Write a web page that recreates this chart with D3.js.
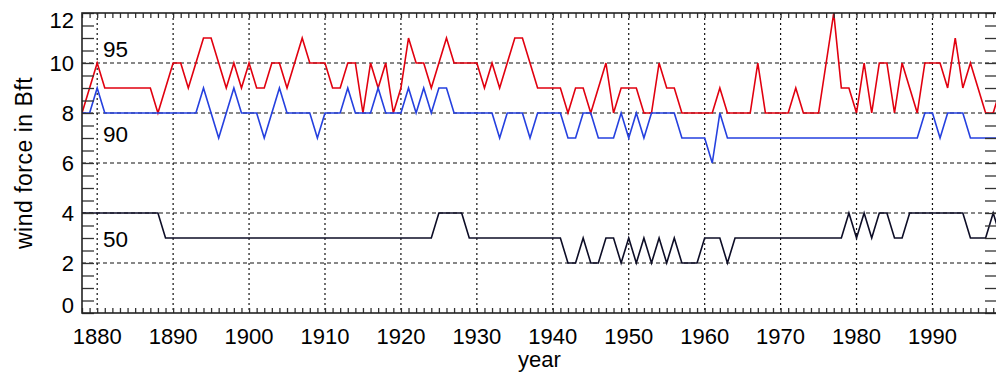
<!DOCTYPE html>
<html lang="en">
<head>
  <meta charset="UTF-8">
  <title>Wind force percentiles</title>
  <style>
    body { margin: 0; background: #fff; font-family: "Liberation Sans", Arial, sans-serif; }
    svg { display: block; }
    .tick-label { font-size: 22px; fill: #000; }
  </style>
</head>
<body>
  <svg width="996" height="378"></svg>
  <script src="https://d3js.org/d3.v7.min.js"></script>
  <script>
    // yearly values 1878..1999
    const firstYear = 1878;
    const p95 = [
      8, 9, 10, 9, 9, 9, 9, 9, 9, 9,
      8, 9, 10, 10, 9, 10, 11, 11, 10, 9,
      10, 9, 10, 9, 9, 10, 10, 9, 10, 11,
      10, 10, 10, 9, 9, 10, 10, 8, 10, 9,
      10, 8, 9, 11, 10, 10, 9, 10, 11, 10,
      10, 10, 10, 9, 10, 9, 10, 11, 11, 10,
      9, 9, 9, 9, 8, 9, 9, 8, 9, 10,
      8, 9, 9, 9, 8, 8, 10, 9, 9, 8,
      8, 8, 8, 8, 9, 8, 8, 8, 8, 10,
      8, 8, 8, 8, 9, 8, 8, 8, 10, 12,
      9, 9, 8, 10, 8, 10, 10, 8, 10, 9,
      8, 10, 10, 10, 9, 11, 9, 10, 9, 8,
      8, 9
    ];
    const p90 = [
      8, 8, 9, 8, 8, 8, 8, 8, 8, 8,
      8, 8, 8, 8, 8, 8, 9, 8, 7, 8,
      9, 8, 8, 8, 7, 8, 9, 8, 8, 8,
      8, 7, 8, 8, 8, 9, 8, 8, 8, 9,
      8, 8, 8, 9, 8, 9, 8, 9, 9, 8,
      8, 8, 8, 8, 8, 7, 8, 8, 8, 7,
      8, 8, 8, 8, 7, 7, 8, 8, 7, 7,
      7, 8, 7, 8, 7, 8, 8, 8, 8, 7,
      7, 7, 7, 6, 8, 7, 7, 7, 7, 7,
      7, 7, 7, 7, 7, 7, 7, 7, 7, 7,
      7, 7, 7, 7, 7, 7, 7, 7, 7, 7,
      7, 8, 8, 7, 8, 8, 8, 7, 7, 7,
      7, 7
    ];
    const p50 = [
      4, 4, 4, 4, 4, 4, 4, 4, 4, 4,
      4, 3, 3, 3, 3, 3, 3, 3, 3, 3,
      3, 3, 3, 3, 3, 3, 3, 3, 3, 3,
      3, 3, 3, 3, 3, 3, 3, 3, 3, 3,
      3, 3, 3, 3, 3, 3, 3, 4, 4, 4,
      4, 3, 3, 3, 3, 3, 3, 3, 3, 3,
      3, 3, 3, 3, 2, 2, 3, 2, 2, 3,
      3, 2, 3, 2, 3, 2, 3, 2, 3, 2,
      2, 2, 3, 3, 3, 2, 3, 3, 3, 3,
      3, 3, 3, 3, 3, 3, 3, 3, 3, 3,
      3, 4, 3, 4, 3, 4, 4, 3, 3, 4,
      4, 4, 4, 4, 4, 4, 4, 3, 3, 3,
      4, 3
    ];
    const decadeTicks = [1880, 1890, 1900, 1910, 1920, 1930, 1940, 1950, 1960, 1970, 1980, 1990];
    const yTicks = [0, 2, 4, 6, 8, 10, 12];
    const gridY = [2, 4, 6, 8, 10];

    const series = [
      { name: "95", values: p95, color: "#e1000f", labelValue: 10.24 },
      { name: "90", values: p90, color: "#2540df", labelValue: 6.84 },
      { name: "50", values: p50, color: "#0d0d26", labelValue: 2.64 }
    ];

    const m = { left: 82, right: 997, top: 13, bottom: 313 };
    const svg = d3.select("svg");

    const x = d3.scaleLinear().domain([1878, 1998.5]).range([m.left, m.right]);
    const y = d3.scaleLinear().domain([0, 12]).range([m.bottom, m.top]);
    const years = p95.map((d, i) => firstYear + i);

    svg.append("clipPath").attr("id", "plot")
      .append("rect").attr("x", m.left).attr("y", m.top - 1)
      .attr("width", m.right - m.left).attr("height", m.bottom - m.top + 2);

    // grid
    svg.append("g")
      .selectAll("line")
      .data(decadeTicks)
      .join("line")
      .attr("x1", d => x(d)).attr("x2", d => x(d))
      .attr("y1", m.top).attr("y2", m.bottom)
      .attr("stroke", "#111").attr("stroke-width", 1.2)
      .attr("stroke-dasharray", "2,3");

    svg.append("g")
      .selectAll("line")
      .data(gridY)
      .join("line")
      .attr("x1", m.left).attr("x2", m.right)
      .attr("y1", d => y(d)).attr("y2", d => y(d))
      .attr("stroke", "#111").attr("stroke-width", 1.2)
      .attr("stroke-dasharray", "4,3");

    // lines
    const line = d3.line()
      .x((d, i) => x(years[i]))
      .y(d => y(d));

    svg.append("g").attr("clip-path", "url(#plot)")
      .selectAll("path")
      .data(series)
      .join("path")
      .attr("d", d => line(d.values))
      .attr("fill", "none")
      .attr("stroke", d => d.color)
      .attr("stroke-width", 1.6)
      .attr("stroke-linejoin", "miter");

    // series labels
    svg.append("g")
      .selectAll("text")
      .data(series)
      .join("text")
      .attr("x", 103)
      .attr("y", d => y(d.labelValue))
      .attr("font-size", 22.5)
      .text(d => d.name);

    // axes (ticks point inward)
    const halfSteps = d3.range(0, 12.01, 0.5);
    const styleAxis = g => {
      g.select(".domain").remove();
      g.selectAll(".tick line").attr("stroke", "#333").attr("stroke-width", 1.3);
    };

    svg.append("g").attr("transform", `translate(${m.left},0)`)
      .call(d3.axisLeft(y).tickValues(halfSteps).tickSize(-12).tickFormat(""))
      .call(styleAxis);
    svg.append("g").attr("transform", `translate(${m.right},0)`)
      .call(d3.axisRight(y).tickValues(halfSteps).tickSize(-12).tickFormat(""))
      .call(styleAxis);
    svg.append("g").attr("transform", `translate(0,${m.bottom})`)
      .call(d3.axisBottom(x).tickValues(years).tickSize(-5).tickFormat(""))
      .call(styleAxis);
    svg.append("g").attr("transform", `translate(0,${m.top})`)
      .call(d3.axisTop(x).tickValues(years).tickSize(-5).tickFormat(""))
      .call(styleAxis);

    svg.append("rect")
      .attr("x", m.left).attr("y", m.top)
      .attr("width", m.right - m.left).attr("height", m.bottom - m.top)
      .attr("fill", "none").attr("stroke", "#222").attr("stroke-width", 1.6);

    // tick labels
    svg.append("g")
      .selectAll("text")
      .data(yTicks)
      .join("text")
      .attr("class", "tick-label")
      .attr("x", 74)
      .attr("y", d => y(d) + (d === 12 ? 15 : d === 0 ? 0 : 8))
      .attr("text-anchor", "end")
      .text(d => d);

    svg.append("g")
      .selectAll("text")
      .data(decadeTicks)
      .join("text")
      .attr("class", "tick-label")
      .attr("x", d => x(d))
      .attr("y", 344)
      .attr("text-anchor", "middle")
      .text(d => d);

    svg.append("text")
      .attr("x", (m.left + m.right) / 2)
      .attr("y", 367)
      .attr("text-anchor", "middle")
      .attr("font-size", 22)
      .text("year");

    svg.append("text")
      .attr("transform", `translate(32,${(m.top + m.bottom) / 2}) rotate(-90)`)
      .attr("text-anchor", "middle")
      .attr("font-size", 23)
      .attr("letter-spacing", 0.5)
      .text("wind force in Bft");
  </script>
</body>
</html>
